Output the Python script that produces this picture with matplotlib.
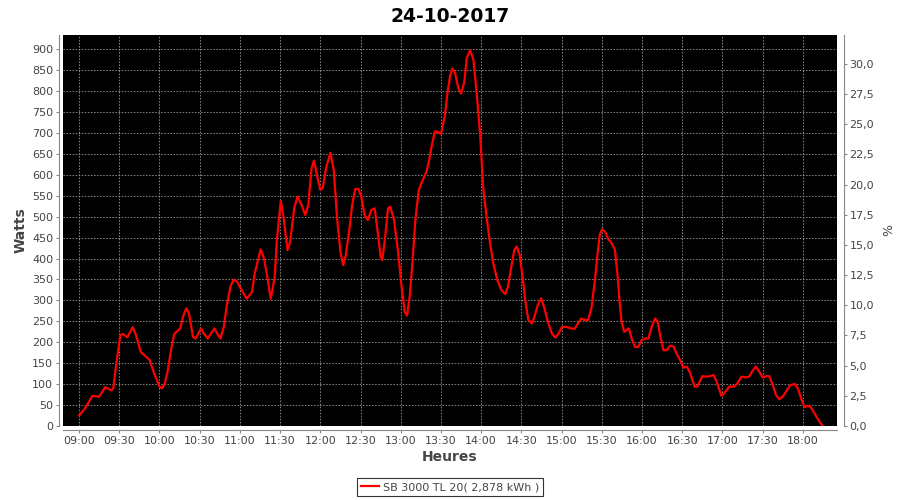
import pandas as pd
import matplotlib
matplotlib.use("Agg")
import matplotlib.pyplot as plt
import matplotlib.dates as mdates
from matplotlib.ticker import FixedLocator, FuncFormatter

# ------------------------------
#    DATA
# ------------------------------

title = "24-10-2017"
series_label = "SB 3000 TL 20( 2,878 kWh )"

# minutes after 09:00
minutes = [
    0, 4, 10, 15, 19.5, 24, 25.5, 27.5, 30.75, 32.5, 36, 40, 42.5, 46, 52.5, 56,
    60, 62, 64, 66, 69, 71, 75.5, 77.5, 80, 82, 85, 87, 91, 93, 96, 101, 103,
    105.5, 108, 110, 113, 115.5, 118, 121, 125, 129, 131, 135.5, 138, 140, 143,
    146, 147.5, 150.5, 152.5, 155.5, 157.5, 160.5, 163, 166, 168.75, 171, 173.5,
    175.25, 178, 180, 181.75, 184.25, 187.5, 190, 192.5, 195, 197, 199, 201.75,
    203.75, 206, 208.5, 210.5, 213, 215.5, 218, 220.5, 222.5, 225, 226.25, 228.5,
    230.5, 232.25, 235, 238, 240.5, 243, 244.75, 246.75, 248.75, 251, 253.5,
    256.75, 259.25, 261.25, 263, 265.5, 268, 270, 273, 275, 276.75, 278.5, 280.5,
    283, 285, 287.5, 289.25, 291.75, 294.25, 296.75, 299.25, 301.5, 304, 306.5,
    309, 312, 315, 318, 320, 322.75, 324.75, 326.5, 328.75, 331, 333, 335.25,
    337.75, 339.75, 342.25, 344.75, 347.25, 349.75, 352.75, 355.25, 357.75,
    360.25, 363.5, 367.25, 369.75, 372.25, 374.75, 377.25, 379.75, 382.25,
    384.75, 386.75, 388.5, 390.25, 392.25, 394.75, 397.25, 399.75, 401.75,
    403.25, 404.75, 406.75, 408.5, 410.25, 412.25, 414.75, 417.25, 419.75,
    422.25, 424.75, 427.25, 429.75, 431.75, 433.5, 436, 438.5, 441, 443.5, 446,
    448.5, 451, 453.5, 456, 459.25, 461.25, 465, 468.25, 470.75, 473.25, 475.75,
    479.25, 481.25, 485, 488.75, 491.25, 494.25, 497.5, 500, 502.5, 505, 507.5,
    510, 512.5, 515, 517.5, 520, 522.5, 525, 527.5, 530.75, 534.25, 536.25,
    539.25, 541.25, 543.75, 545.75, 548.75, 552.5, 555,
]

watts = [
    25, 40, 72, 70, 93, 85, 90, 142, 217, 220, 212, 236, 217, 177, 158, 126,
    94, 90, 102, 130, 189, 220, 233, 261, 281, 269, 213, 209, 233, 221, 209, 233, 221,
    209, 237, 284, 334, 350, 344, 326, 304, 320, 364, 422, 400, 364, 304,
    356, 443, 538, 500, 420, 440, 520, 548, 528, 504, 528, 616,
    634, 592, 564, 568, 616, 653, 612, 496, 416, 384, 408, 472,
    528, 566, 566, 548, 504, 492, 516, 520, 472, 404, 396, 456,
    520, 524, 492, 416, 336, 272, 264, 312, 392, 496, 564,
    590, 608, 636, 668, 704, 702, 697, 743, 799, 835, 854, 843,
    807, 794, 823, 879, 898, 875, 791, 696, 570, 500, 440,
    389, 349, 325, 315, 333, 385, 421, 429, 409, 353, 297, 253,
    245, 261, 289, 305, 281, 249, 221, 211, 221,
    236, 237, 233, 232, 245, 257, 253, 253, 281,
    345, 409, 457, 470, 465, 447, 437, 421, 361,
    297, 249, 225, 229, 233, 209, 189, 189, 205,
    209, 209, 237, 257, 249, 217, 181, 181, 192, 190, 172,
    157, 139, 142, 126, 94, 94, 119, 118, 119, 122, 106,
    72, 78, 94, 94, 102, 118, 116, 118, 132, 142, 130,
    116, 119, 119, 98, 74, 64, 70, 82, 98, 100, 90,
    62, 45, 48, 46, 30, 10, 0,
]

left_ticks = list(range(0, 901, 50))
right_ticks = [0, 2.5, 5, 7.5, 10, 12.5, 15, 17.5, 20, 22.5, 25, 27.5, 30]

# ------------------------------
#    PLOT
# ------------------------------

start = pd.Timestamp("2017-10-24 09:00")
times = start + pd.to_timedelta(minutes, unit="min")

label_color = "#444444"
axis_color = "#888888"
grid_color = "#a8a8a8"

fig = plt.figure(figsize=(9, 5), dpi=100)
ax = fig.add_axes([63 / 900, 1 - 426 / 500, (837 - 63) / 900, (426 - 35) / 500])
ax.set_facecolor("black")

ax.plot(times, watts, color="red", linewidth=1.6, label=series_label)

ax.set_xlim(start - pd.Timedelta(minutes=12), start + pd.Timedelta(minutes=565.5))
ax.set_ylim(0, 934)

ax.xaxis.set_major_locator(mdates.MinuteLocator(byminute=[0, 30]))
ax.xaxis.set_major_formatter(mdates.DateFormatter("%H:%M"))
ax.yaxis.set_major_locator(FixedLocator(left_ticks))

ax.grid(True, color=grid_color, linestyle=(0, (2, 2)), linewidth=0.55)

for side in ["top", "right"]:
    ax.spines[side].set_visible(False)
for side in ["left", "bottom"]:
    ax.spines[side].set_position(("outward", 3))
    ax.spines[side].set_color(axis_color)

ax.tick_params(axis="both", colors=axis_color, labelcolor=label_color,
               labelsize=8, length=2, width=0.8, pad=2)

ax.set_ylabel("Watts", fontsize=10, fontweight="bold", color=label_color, labelpad=3)
ax.set_xlabel("Heures", fontsize=10, fontweight="bold", color=label_color, labelpad=3)

# secondary percent axis
ax2 = ax.twinx()
ax2.set_ylim(0, 32.4)
ax2.yaxis.set_major_locator(FixedLocator(right_ticks))
ax2.yaxis.set_major_formatter(FuncFormatter(lambda v, p: f"{v:.1f}".replace(".", ",")))
for side in ["top", "left", "bottom"]:
    ax2.spines[side].set_visible(False)
ax2.spines["right"].set_position(("outward", 5))
ax2.spines["right"].set_color(axis_color)
ax2.tick_params(axis="y", colors=axis_color, labelcolor=label_color,
                labelsize=8, length=2, width=0.8, pad=2)
ax2.set_ylabel("%", fontsize=9, color=label_color, labelpad=6)

fig.suptitle(title, x=0.5, y=0.985, fontsize=13.5, fontweight="bold", color="black")

leg = fig.legend(loc="center", bbox_to_anchor=(0.5, 1 - 487 / 500), fontsize=8,
                 frameon=True, fancybox=False, handlelength=1.6, handletextpad=0.4,
                 borderpad=0.35, labelcolor=label_color)
leg.get_frame().set_edgecolor("black")
leg.get_frame().set_linewidth(0.8)

fig.savefig("out.png", dpi=100)
